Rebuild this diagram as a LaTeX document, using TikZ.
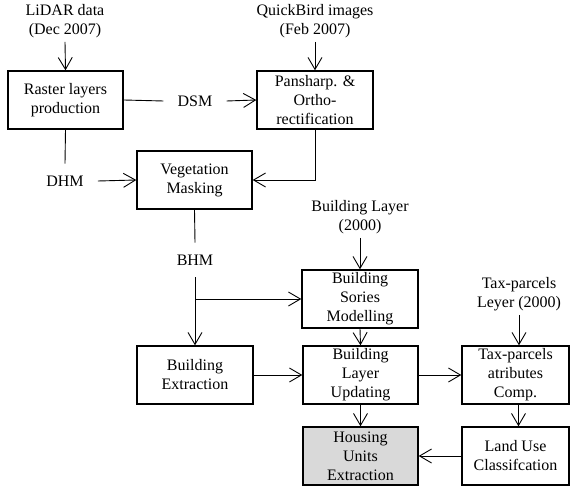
\documentclass[tikz,border=0pt]{standalone}
\usepackage{fontspec}
\setmainfont{Liberation Serif}
\usetikzlibrary{arrows.meta}
\begin{document}
\begin{tikzpicture}[x=1pt,y=-1pt,
  every node/.style={font=\fontsize{16}{19}\selectfont, align=center},
  box/.style={draw, line width=1.4pt, minimum height=58pt, minimum width=115pt, inner sep=0pt},
  lbl/.style={inner xsep=14pt, inner ysep=4pt},
  mid/.style={inner xsep=14pt, inner ysep=12pt},
  conn/.style={line width=0.9pt},
  arr/.style={conn, -{Straight Barb[length=12pt,width=14pt,line width=0.9pt]}}]
\useasboundingbox (0,0) rectangle (570,486);
% boxes
\node[box] (raster) at (65.5,100) {Raster layers\\production};
\node[box, minimum width=116pt] (pan) at (315,100) {Pansharp. \&\\Ortho-\\rectification};
\node[box] (veg) at (194.5,180) {Vegetation\\Masking};
\node[box, minimum width=116pt] (bsm) at (360,299) {Building\\Sories\\Modelling};
\node[box, minimum width=116pt] (bext) at (195,375) {Building\\Extraction};
\node[box] (blu) at (360.5,375) {Building\\Layer\\Updating};
\node[box, minimum width=107pt] (tax) at (515.5,375) {Tax-parcels\\atributes\\Comp.};
\node[box, fill={rgb,255:red,217;green,217;blue,217}] (house) at (360.5,456) {Housing\\Units\\Extraction};
\node[box, minimum width=107pt] (land) at (515.5,456) {Land Use\\Classifcation};
% labels
\node[lbl] (lidar) at (65,21) {LiDAR data\\(Dec 2007)};
\node[lbl] (qb) at (315,21) {QuickBird images\\(Feb 2007)};
\node[mid] (dsm) at (195,101) {DSM};
\node[mid] (dhm) at (65,181) {DHM};
\node[mid] (bhm) at (195,260) {BHM};
\node[lbl] (bl) at (360,217) {Building Layer\\(2000)};
\node[lbl] (tp) at (519,294) {Tax-parcels\\Leyer (2000)};
% connectors
\draw[arr] (lidar.south) -- (raster.north);
\draw[arr] (qb.south) -- (pan.north);
\draw[conn] (raster.east) -- (dsm.west);
\draw[arr] (dsm.east) -- (pan.west);
\draw[conn] (raster.south) -- (dhm.north);
\draw[arr] (dhm.east) -- (veg.west);
\draw[arr] (pan.south) |- (veg.east);
\draw[conn] (veg.south) -- (bhm.north);
\draw[arr] (bhm.south) -- (bext.north);
\coordinate (br) at (bhm.south |- bsm.west);
\draw[arr] (br) -- (bsm.west);
\draw[arr] (bl.south) -- (bsm.north);
\draw[arr] (bsm.south) -- (blu.north);
\draw[arr] (bext.east) -- (blu.west);
\draw[arr] (blu.east) -- (tax.west);
\draw[arr] (tp.south) -- (tp.south |- tax.north);
\draw[arr] (blu.south) -- (house.north);
\coordinate (ts) at ([xshift=3pt]tax.south);
\draw[arr] (ts) -- (ts |- land.north);
\draw[arr] (land.west) -- (house.east);
\end{tikzpicture}
\end{document}
